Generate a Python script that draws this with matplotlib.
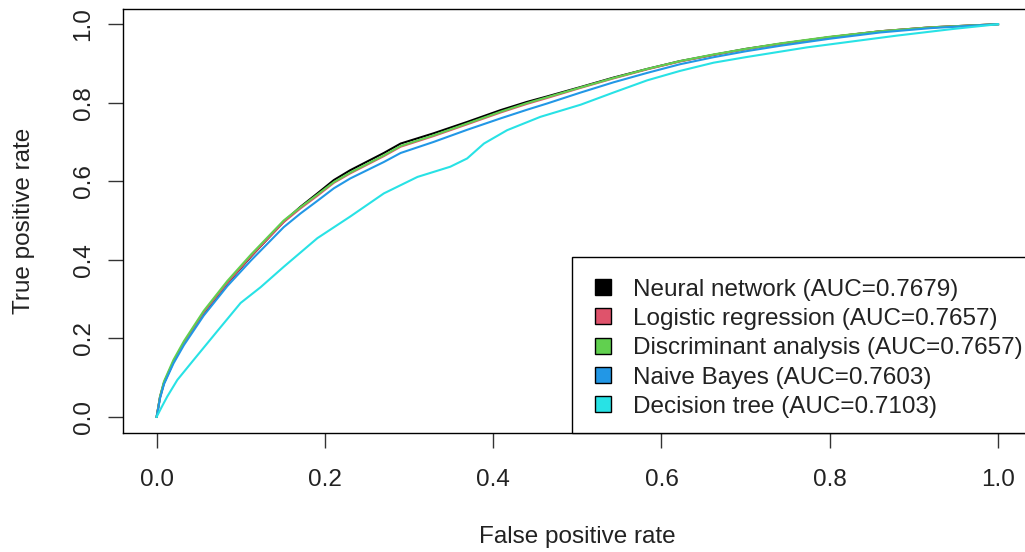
import matplotlib
matplotlib.use("Agg")
import matplotlib.pyplot as plt
from matplotlib.lines import Line2D
from matplotlib.patches import Rectangle

# ---------------- data ----------------
fpr_main = [0, 0.004, 0.0087, 0.02, 0.0325, 0.056, 0.084, 0.112, 0.151, 0.171,
            0.191, 0.2106, 0.230, 0.250, 0.270, 0.290, 0.329, 0.369, 0.4086, 0.44,
            0.464, 0.504, 0.543, 0.583, 0.622, 0.662, 0.70, 0.741, 0.80, 0.860,
            0.92, 1.0]
tpr_nn = [0, 0.050, 0.086, 0.140, 0.188, 0.264, 0.340, 0.408, 0.497, 0.535,
          0.569, 0.603, 0.628, 0.650, 0.672, 0.696, 0.722, 0.751, 0.781, 0.802,
          0.816, 0.840, 0.864, 0.886, 0.906, 0.922, 0.937, 0.950, 0.967, 0.982,
          0.992, 1.0]
tpr_lr = [0, 0.050, 0.087, 0.141, 0.189, 0.266, 0.341, 0.409, 0.496, 0.531,
          0.563, 0.596, 0.620, 0.642, 0.664, 0.688, 0.715, 0.745, 0.775, 0.797,
          0.812, 0.838, 0.862, 0.885, 0.905, 0.922, 0.936, 0.950, 0.967, 0.982,
          0.992, 1.0]
tpr_da = [0, 0.052, 0.090, 0.145, 0.193, 0.270, 0.346, 0.413, 0.500, 0.534,
          0.566, 0.598, 0.622, 0.644, 0.666, 0.690, 0.717, 0.747, 0.777, 0.799,
          0.814, 0.839, 0.863, 0.886, 0.906, 0.923, 0.937, 0.951, 0.968, 0.982,
          0.992, 1.0]
tpr_nb = [0, 0.047, 0.083, 0.136, 0.183, 0.258, 0.333, 0.398, 0.483, 0.518,
          0.550, 0.582, 0.607, 0.628, 0.649, 0.672, 0.700, 0.731, 0.760, 0.782,
          0.798, 0.826, 0.852, 0.876, 0.898, 0.916, 0.931, 0.945, 0.963, 0.979,
          0.990, 1.0]
fpr_dt = [0, 0.006, 0.0127, 0.0246, 0.044, 0.072, 0.0998, 0.1235, 0.151, 0.191,
          0.230, 0.270, 0.310, 0.349, 0.369, 0.389, 0.4165, 0.456, 0.504, 0.543,
          0.583, 0.622, 0.662, 0.70, 0.773, 0.83, 0.880, 0.947, 1.0]
tpr_dt = [0, 0.025, 0.052, 0.094, 0.145, 0.218, 0.290, 0.330, 0.382, 0.455,
          0.510, 0.569, 0.611, 0.637, 0.658, 0.696, 0.730, 0.764, 0.795, 0.826,
          0.857, 0.881, 0.902, 0.916, 0.941, 0.957, 0.971, 0.988, 1.0]

labels = ["Neural network (AUC=0.7679)",
          "Logistic regression (AUC=0.7657)",
          "Discriminant analysis (AUC=0.7657)",
          "Naive Bayes (AUC=0.7603)",
          "Decision tree (AUC=0.7103)"]
colors = ["#000000", "#DF536B", "#61D04F", "#2297E6", "#28E2E5"]
ticks = [0.0, 0.2, 0.4, 0.6, 0.8, 1.0]
tick_labels = ["0.0", "0.2", "0.4", "0.6", "0.8", "1.0"]

series = [(fpr_main, tpr_nn), (fpr_main, tpr_lr), (fpr_main, tpr_da),
          (fpr_main, tpr_nb), (fpr_dt, tpr_dt)]

# ---------------- figure ----------------
plt.rcParams['font.family'] = ['Liberation Sans', 'DejaVu Sans']
FS = 17.5
W, H = 1025, 552
fig = plt.figure(figsize=(W / 100, H / 100), dpi=100)

left_px, right_px, top_px, bottom_px = 123, 1031.7, 8.5, 432.5
ax_w, ax_h = right_px - left_px, bottom_px - top_px
ax = fig.add_axes([left_px / W, 1 - bottom_px / H, ax_w / W, ax_h / H])

for (x, y), c in zip(series, colors):
    ax.plot(x, y, color=c, lw=1.5, solid_joinstyle='round')

ax.set_xlim(-0.04, 1.04)
ax.set_ylim(-0.04, 1.04)
ax.set_xticks(ticks)
ax.set_xticklabels(tick_labels)
ax.set_yticks(ticks)
ax.set_yticklabels(tick_labels)
for s in ax.spines.values():
    s.set_linewidth(1.0)
    s.set_color('black')
ax.tick_params(axis='both', direction='out', length=10.5, width=1.0,
               color='#333333', labelsize=FS, labelcolor='#222222')
ax.tick_params(axis='x', pad=15.5)
ax.tick_params(axis='y', pad=10, labelrotation=90)
for lab in ax.get_yticklabels():
    lab.set_va('center')

fig.text(577 / W, 1 - 543 / H, "False positive rate", ha='center',
         va='baseline', fontsize=FS, color='#222222')
fig.text(30 / W, 1 - 220.5 / H, "True positive rate", ha='center',
         va='baseline', rotation=90, rotation_mode='anchor', fontsize=FS,
         color='#222222')

# legend frame (R-style bottomright box)
leg_left_px, leg_top_px = 572, 257
ax.add_patch(Rectangle(((leg_left_px - left_px) / ax_w, 0),
                       1 - (leg_left_px - left_px) / ax_w,
                       (bottom_px - leg_top_px) / ax_h,
                       transform=ax.transAxes, facecolor='white',
                       edgecolor='black', lw=1.0, zorder=5, clip_on=False))

handles = [Line2D([], [], ls='none', marker='s', markersize=11.5,
                  markerfacecolor=c, markeredgecolor='black',
                  markeredgewidth=1.0) for c in colors]
leg = ax.legend(handles, labels, loc='lower right',
                bbox_to_anchor=(1 + 6 / ax_w, 0), borderaxespad=0,
                fontsize=FS, frameon=False,
                borderpad=0.6, labelspacing=0.30, handlelength=1.32,
                handletextpad=0.6)
leg.set_zorder(6)
for t in leg.get_texts():
    t.set_color('#222222')

fig.savefig("out.png", dpi=100)
